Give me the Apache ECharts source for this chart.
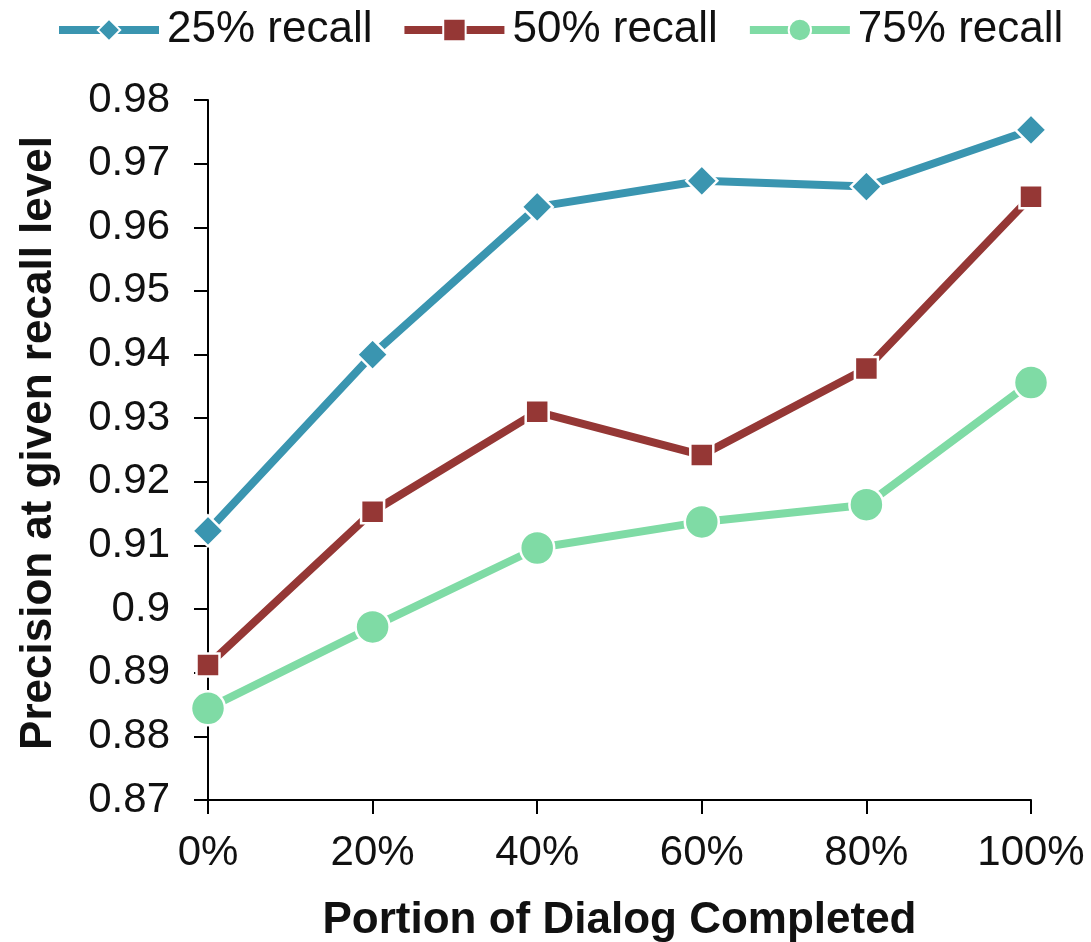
<!DOCTYPE html>
<html><head><meta charset="utf-8">
<script src="https://cdn.jsdelivr.net/npm/echarts@6/dist/echarts.min.js"></script>
<style>html,body{margin:0;padding:0;background:#fff}#c{width:1091px;height:942px}</style>
</head><body><div id="c"></div>
<script>
const categories = ['0%','20%','40%','60%','80%','100%'];
const recall25 = [0.9123, 0.9400, 0.9632, 0.9673, 0.9664, 0.9753];
const recall50 = [0.8912, 0.9153, 0.9310, 0.9242, 0.9378, 0.9648];
const recall75 = [0.8844, 0.8972, 0.9096, 0.9137, 0.9164, 0.9356];
const seriesNames = ['25% recall','50% recall','75% recall'];
const colors = ['#3A95B0','#953735','#7FDBA5'];

const font = '"Liberation Sans", Arial, sans-serif';
const chart = echarts.init(document.getElementById('c'));
function mk(name, data, color, symbol, size){
  return {name, type:'line', data, symbol, symbolSize:size,
    lineStyle:{width:8,color}, itemStyle:{color, borderColor:'#fff', borderWidth:2.5},
    emphasis:{disabled:true}, z: 3};
}
chart.setOption({
  animation:false,
  color: colors,
  legend:{top:8, left:55, padding:0, itemWidth:100, itemHeight:28, itemGap:28,
    lineStyle:{width:8},
    textStyle:{fontFamily:font, fontSize:44, color:'#111', padding:[0,0,0,3]},
    data: seriesNames},
  grid:{left:208, right:60, top:100, bottom:142, containLabel:false, outerBoundsMode:'none'},
  xAxis:{type:'category', data:categories, boundaryGap:false,
    axisLine:{lineStyle:{color:'#000', width:2}},
    axisTick:{alignWithLabel:true, length:14, lineStyle:{color:'#000', width:2}},
    axisLabel:{fontFamily:font, fontSize:42, color:'#111', margin:32},
    name:'Portion of Dialog Completed', nameLocation:'middle', nameGap:99,
    nameTextStyle:{fontFamily:font, fontSize:44, fontWeight:'bold', color:'#111'}},
  yAxis:{type:'value', min:0.87, max:0.98, interval:0.01,
    axisLine:{show:true, lineStyle:{color:'#000', width:2}},
    axisTick:{show:true, length:14, lineStyle:{color:'#000', width:2}},
    splitLine:{show:false},
    axisLabel:{fontFamily:font, fontSize:42, color:'#111', margin:38,
      formatter: v => String(Math.round(v*100)/100)},
    name:'Precision at given recall level', nameLocation:'middle', nameGap:147,
    nameTextStyle:{fontFamily:font, fontSize:44, fontWeight:'bold', color:'#111', padding:[0,0,0,14]}},
  series:[
    mk(seriesNames[0], recall25, colors[0], 'diamond', 31),
    mk(seriesNames[1], recall50, colors[1], 'rect', 23),
    mk(seriesNames[2], recall75, colors[2], 'circle', 34)
  ]
});
</script></body></html>
